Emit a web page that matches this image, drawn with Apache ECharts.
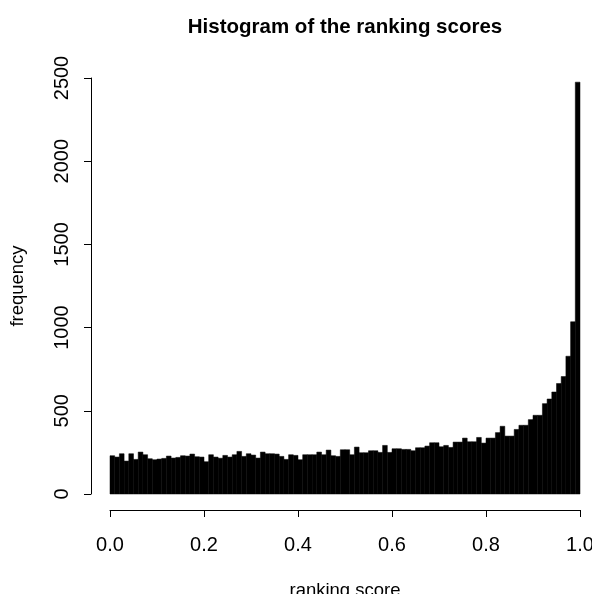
<!DOCTYPE html>
<html>
<head>
<meta charset="utf-8">
<script src="https://cdn.jsdelivr.net/npm/echarts@6/dist/echarts.min.js"></script>
<style>html,body{margin:0;padding:0;background:#fff}#c{width:592px;height:594px}</style>
</head>
<body>
<div id="c"></div>
<script>
var binWidth = 0.01;
var binStarts = [];
for (var i = 0; i < 100; i++) binStarts.push(+(i * binWidth).toFixed(2));
var counts = [
  230, 222, 242, 198, 242, 208, 252, 236, 212, 206,
  210, 214, 228, 216, 220, 230, 228, 240, 224, 222,
  194, 236, 222, 215, 232, 222, 236, 256, 226, 242,
  234, 216, 252, 242, 242, 240, 226, 208, 236, 232,
  206, 236, 236, 236, 252, 236, 264, 230, 226, 266,
  266, 236, 282, 248, 248, 260, 260, 250, 292, 250,
  272, 272, 268, 268, 260, 278, 278, 288, 308, 308,
  284, 292, 280, 312, 312, 336, 314, 314, 340, 306,
  336, 336, 369, 407, 348, 348, 388, 413, 413, 447,
  473, 473, 543, 571, 613, 664, 706, 828, 1035, 2475
];
var xTicks = [0, 0.2, 0.4, 0.6, 0.8, 1.0];
var yTicks = [0, 500, 1000, 1500, 2000, 2500];

var data = binStarts.map(function (s, i) { return [s, s + binWidth, counts[i]]; });
var font = '"Liberation Sans", Arial, Helvetica, sans-serif';

var chart = echarts.init(document.getElementById('c'), null, {renderer: 'canvas'});
chart.setOption({
  animation: false,
  backgroundColor: '#fff',
  title: {
    text: 'Histogram of the ranking scores',
    left: 340, top: 12, textAlign: 'center',
    textStyle: {fontFamily: font, fontSize: 20.5, fontWeight: 'bold', color: '#000'}
  },
  grid: {left: 110, right: 12, top: 78, bottom: 100, containLabel: false, outerBoundsMode: 'none'},
  xAxis: {
    type: 'value', min: xTicks[0], max: xTicks[xTicks.length - 1], interval: 0.2,
    offset: 16,
    name: 'ranking score', nameLocation: 'middle', nameGap: 71,
    nameTextStyle: {fontFamily: font, fontSize: 18.5, color: '#000'},
    axisLine: {show: true, onZero: false, lineStyle: {color: '#000', width: 1}},
    axisTick: {show: true, length: 7, lineStyle: {color: '#000'}},
    axisLabel: {fontFamily: font, fontSize: 20, color: '#000', margin: 25,
      hideOverlap: false,
      formatter: function (v) { return v.toFixed(1); }},
    splitLine: {show: false}
  },
  yAxis: {
    type: 'value', min: yTicks[0], max: yTicks[yTicks.length - 1], interval: 500,
    offset: 19,
    name: 'frequency', nameLocation: 'middle', nameGap: 64,
    nameTextStyle: {fontFamily: font, fontSize: 18.5, color: '#000'},
    axisLine: {show: true, onZero: false, lineStyle: {color: '#000', width: 1}},
    axisTick: {show: true, length: 7, lineStyle: {color: '#000'}},
    axisLabel: {fontFamily: font, fontSize: 20, color: '#000', margin: 19, rotate: 90,
      verticalAlign: 'bottom', align: 'center',
      formatter: function (v) { return String(v); }},
    splitLine: {show: false}
  },
  series: [{
    type: 'custom',
    data: data,
    encode: {x: [0, 1], y: 2},
    renderItem: function (params, api) {
      var p0 = api.coord([api.value(0), 0]);
      var p1 = api.coord([api.value(1), api.value(2)]);
      return {
        type: 'rect',
        shape: {x: p0[0], y: p1[1], width: p1[0] - p0[0], height: p0[1] - p1[1]},
        style: {fill: '#000', stroke: '#000', lineWidth: 0.5}
      };
    }
  }]
});
</script>
</body>
</html>
